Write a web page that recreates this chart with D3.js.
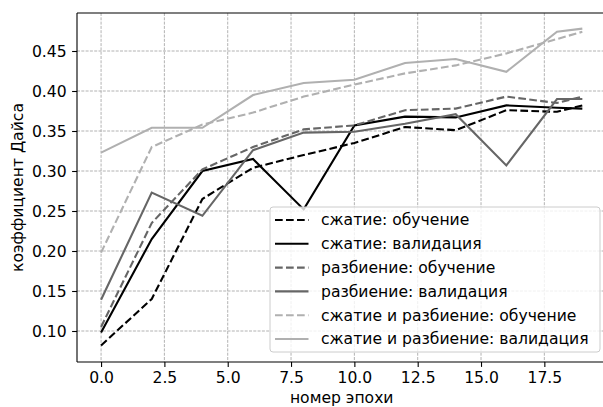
<!DOCTYPE html>
<html><head><meta charset="utf-8">
<script src="https://cdn.jsdelivr.net/npm/d3@7"></script>
<style>body{margin:0;background:#fff;} svg{display:block;font-family:"DejaVu Sans",sans-serif;}</style>
</head><body><svg id="c" width="603" height="407"></svg>
<script>
const epochs = [0, 2, 4, 6, 8, 10, 12, 14, 16, 18, 19];
const compTrain = [0.082, 0.140, 0.265, 0.304, 0.320, 0.335, 0.355, 0.351, 0.376, 0.374, 0.382];
const compVal = [0.098, 0.215, 0.300, 0.315, 0.252, 0.357, 0.368, 0.367, 0.382, 0.379, 0.378];
const splitTrain = [0.105, 0.235, 0.302, 0.330, 0.352, 0.357, 0.376, 0.378, 0.393, 0.385, 0.393];
const splitVal = [0.139, 0.273, 0.244, 0.326, 0.348, 0.349, 0.359, 0.371, 0.307, 0.390, 0.390];
const bothTrain = [0.198, 0.330, 0.358, 0.373, 0.393, 0.408, 0.422, 0.432, 0.447, 0.465, 0.474];
const bothVal = [0.323, 0.354, 0.354, 0.395, 0.410, 0.414, 0.435, 0.440, 0.424, 0.474, 0.478];
const seriesNames = ["сжатие: обучение", "сжатие: валидация", "разбиение: обучение", "разбиение: валидация", "сжатие и разбиение: обучение", "сжатие и разбиение: валидация"];
const xTicks = [0, 2.5, 5, 7.5, 10, 12.5, 15, 17.5];
const yTicks = [0.10, 0.15, 0.20, 0.25, 0.30, 0.35, 0.40, 0.45];
const xLabel = "номер эпохи";
const yLabel = "коэффициент Дайса";

const series = [
  {name: seriesNames[0], values: compTrain, color: "#000000", dash: "7.7,3.3"},
  {name: seriesNames[1], values: compVal, color: "#000000", dash: null},
  {name: seriesNames[2], values: splitTrain, color: "#666666", dash: "7.7,3.3"},
  {name: seriesNames[3], values: splitVal, color: "#666666", dash: null},
  {name: seriesNames[4], values: bothTrain, color: "#b0b0b0", dash: "7.7,3.3"},
  {name: seriesNames[5], values: bothVal, color: "#b0b0b0", dash: null}
];

const FS = 15.6;
const L = 77, R = 606.4, T = 13, B = 362;
const x = d3.scaleLinear().domain([-0.95, 19.95]).range([L, R]);
const y = d3.scaleLinear().domain([0.06125, 0.4975]).range([B, T]);
const svg = d3.select("#c");

// grid
const grid = svg.append("g");
grid.selectAll(".gx").data(xTicks).enter().append("line")
  .attr("x1", d => x(d)).attr("x2", d => x(d)).attr("y1", T).attr("y2", B)
  .attr("stroke", "#a0a0a0").attr("stroke-width", 0.8).attr("stroke-dasharray", "3,1.3");
grid.selectAll(".gy").data(yTicks).enter().append("line")
  .attr("x1", L).attr("x2", R).attr("y1", d => y(d)).attr("y2", d => y(d))
  .attr("stroke", "#a0a0a0").attr("stroke-width", 0.8).attr("stroke-dasharray", "3,1.3");

// lines
const line = d3.line().x((d, i) => x(epochs[i])).y(d => y(d));
svg.append("g").selectAll("path").data(series).enter().append("path")
  .attr("d", d => line(d.values)).attr("fill", "none")
  .attr("stroke", d => d.color).attr("stroke-width", 2.1)
  .attr("stroke-dasharray", d => d.dash);

// axes
const xAxis = d3.axisBottom(x).tickValues(xTicks).tickFormat(d3.format(".1f")).tickSize(4.9).tickPadding(4.6);
const yAxis = d3.axisLeft(y).tickValues(yTicks).tickFormat(d3.format(".2f")).tickSize(4.9).tickPadding(5.5);
const gx = svg.append("g").attr("transform", `translate(0,${B})`).call(xAxis);
const gy = svg.append("g").attr("transform", `translate(${L},0)`).call(yAxis);
[gx, gy].forEach(g => {
  g.select(".domain").remove();
  g.selectAll("line").attr("stroke", "#000").attr("stroke-width", 1.1);
  g.selectAll("text").attr("font-size", FS).attr("fill", "#000").attr("font-family", "DejaVu Sans");
});
// spines
svg.append("line").attr("x1", L).attr("x2", L).attr("y1", T).attr("y2", B).attr("stroke", "#000").attr("stroke-width", 1.1);
svg.append("line").attr("x1", L).attr("x2", R).attr("y1", B).attr("y2", B).attr("stroke", "#000").attr("stroke-width", 1.1);
svg.append("line").attr("x1", L).attr("x2", R).attr("y1", T).attr("y2", T).attr("stroke", "#000").attr("stroke-width", 1.1);
svg.append("line").attr("x1", R).attr("x2", R).attr("y1", T).attr("y2", B).attr("stroke", "#000").attr("stroke-width", 1.1);

// axis labels
svg.append("text").attr("x", (L + R) / 2).attr("y", 402.5).attr("text-anchor", "middle")
  .attr("font-size", FS).text(xLabel);
svg.append("text").attr("transform", `translate(23,${(T + B) / 2}) rotate(-90)`).attr("text-anchor", "middle")
  .attr("font-size", FS).text(yLabel);

// legend
const lg = svg.append("g");
lg.append("rect").attr("x", 270).attr("y", 207).attr("width", 330).attr("height", 145)
  .attr("rx", 3).attr("fill", "#fff").attr("fill-opacity", 0.8).attr("stroke", "#cccccc").attr("stroke-width", 1);
const rows = lg.selectAll(".row").data(series).enter().append("g")
  .attr("transform", (d, i) => `translate(0,${220 + i * 23.8})`);
rows.append("line").attr("x1", 275).attr("x2", 308.5).attr("y1", 0).attr("y2", 0)
  .attr("stroke", d => d.color).attr("stroke-width", 2.1).attr("stroke-dasharray", d => d.dash);
rows.append("text").attr("x", 321).attr("y", 0).attr("dy", "0.35em").attr("font-size", FS).text(d => d.name);
</script></body></html>
